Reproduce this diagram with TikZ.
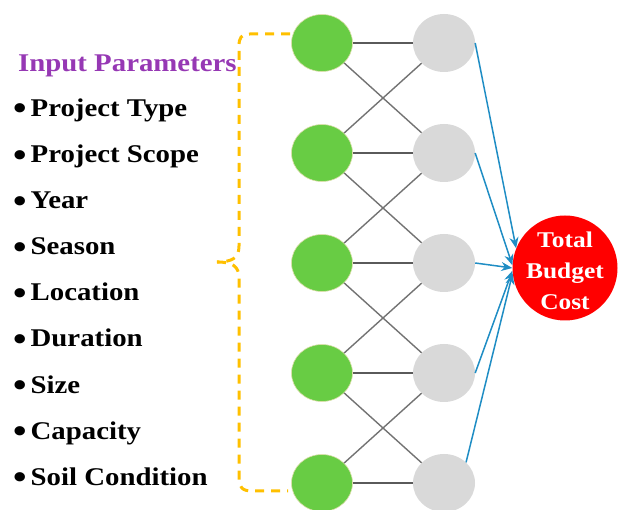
\documentclass[tikz,border=0pt]{standalone}
\usepackage{fontspec}
\setmainfont{Liberation Serif}[FakeStretch=1.13]
\usetikzlibrary{arrows.meta,shapes.geometric}
\definecolor{nodegreen}{HTML}{68CC44}
\definecolor{nodegray}{HTML}{D9D9D9}
\definecolor{bracegold}{HTML}{FFC000}
\definecolor{arrowblue}{HTML}{1F8DC4}
\definecolor{titlepurple}{HTML}{9638B4}
\definecolor{linkgray}{HTML}{5A5A5A}
\newcommand{\listdot}{{\fontsize{34}{30}\selectfont\raisebox{-3.5pt}{\textbullet}}\hspace{4pt}}
\tikzset{
  inputnode/.style={ellipse, fill=nodegreen, draw=nodegreen!60!orange!40, line width=0.6pt,
    minimum width=61pt, minimum height=57pt, inner sep=0pt},
  hiddennode/.style={ellipse, fill=nodegray, minimum width=62pt, minimum height=58pt, inner sep=0pt},
  outnode/.style={circle, fill=red, minimum size=105pt, inner sep=0pt},
  outlabel/.style={inner sep=0pt, text=white, font=\bfseries\fontsize{22.5}{31}\selectfont, align=center},
  link/.style={draw=linkgray, line width=1.4pt},
  outarrow/.style={draw=arrowblue, line width=1.5pt, -{Stealth[length=11pt,width=9pt]}},
  bracepath/.style={draw=bracegold, line width=3pt, dash pattern=on 9pt off 7pt},
  itemtext/.style={anchor=base west, inner sep=0pt, font=\bfseries\fontsize{25.5}{30}\selectfont},
}
\begin{document}
\begin{tikzpicture}[x=1pt, y=-1pt]
\useasboundingbox (0,0) rectangle (619,510);

% input and hidden layers
\foreach \i/\y in {1/43, 2/153, 3/263, 4/373, 5/483} {
  \node[inputnode] (g\i) at (322,\y) {};
  \node[hiddennode] (h\i) at (444,\y) {};
}

% links between the layers
\foreach \i in {1,...,5} { \draw[link] (g\i) -- (h\i); }
\foreach \i/\j in {1/2, 2/3, 3/4, 4/5} {
  \draw[link, draw=linkgray!85] (g\i) -- (h\j);
  \draw[link, draw=linkgray!85] (g\j) -- (h\i);
}

% output node and its caption
\node[outnode] (out) at (565,268) {};
\node[outlabel] (outtext) at ([yshift=-3pt]out.center) {Total\\Budget\\Cost};

% arrows into the output
\draw[outarrow] (h1.east) -- (out.158);
\draw[outarrow] (h2.east) -- (out.177);
\draw[outarrow] (h3.east) -- (out.180);
\draw[outarrow] (h4.east) -- (out.183);
\draw[outarrow] (h5.north east) -- (out.186);

% dashed brace grouping the parameters
\coordinate (btop) at (290,34);
\coordinate (bmid) at (217,262);
\coordinate (bbot) at (288,491);
\draw[bracepath] (btop) -- (250,34) .. controls (241,34) and (239,38) .. (239,46)
  -- (239,246) .. controls (239,258) and (232,262) .. (bmid);
\draw[bracepath] (bmid) .. controls (232,262) and (239,266) .. (239,278)
  -- (239,478) .. controls (239,487) and (242,491) .. (252,491) -- (bbot);

% parameter list
\node[itemtext, text=titlepurple] (title) at (18,71.5) {Input Parameters};
\foreach \k/\t in {0/Project Type, 1/Project Scope, 2/Year, 3/Season, 4/Location,
    5/Duration, 6/Size, 7/Capacity, 8/Soil Condition} {
  \node[itemtext] (p\k) at (13,116.5+46.1*\k) {\listdot\t};
}
\end{tikzpicture}
\end{document}
